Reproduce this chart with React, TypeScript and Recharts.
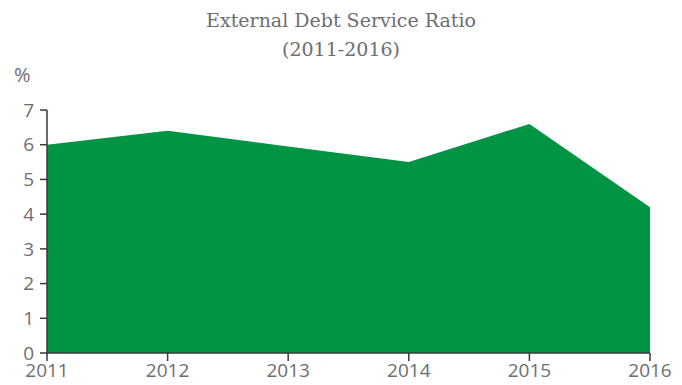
import React from 'react';
import { AreaChart, Area, XAxis, YAxis } from 'recharts';

const years = ['2011', '2012', '2013', '2014', '2015', '2016'];
const ratio = [6.0, 6.4, 5.95, 5.5, 6.6, 4.2];
const yTicks = [0, 1, 2, 3, 4, 5, 6, 7];

const data = years.map((year, i) => ({ year, ratio: ratio[i] }));

const GREEN = '#009444';
const AXIS = '#3a3a3a';
const LABEL = '#6d6e71';

export default function App() {
  const tickStyle = { fill: LABEL, fontSize: 19, fontFamily: '"Open Sans", sans-serif' };

  return (
    <div style={{ position: 'absolute', left: 0, top: 0, width: 682, height: 385, background: '#fff' }}>
      {/* title */}
      <div
        style={{
          position: 'absolute',
          left: 0,
          top: 6,
          width: 682,
          textAlign: 'center',
          fontFamily: '"DejaVu Serif", serif',
          fontSize: 19,
          lineHeight: '29px',
          color: LABEL,
        }}
      >
        External Debt Service Ratio
        <br />
        (2011-2016)
      </div>
      <div
        style={{
          position: 'absolute',
          left: 14,
          top: 61,
          fontFamily: '"Open Sans", sans-serif',
          fontSize: 20,
          color: LABEL,
        }}
      >
        %
      </div>

      <AreaChart width={682} height={385} data={data} margin={{ top: 110, right: 32, bottom: 0, left: 0 }}>
        <XAxis
          dataKey="year"
          height={32}
          axisLine={{ stroke: AXIS, strokeWidth: 1.5 }}
          tickLine={{ stroke: AXIS, strokeWidth: 1.5 }}
          tickSize={8}
          tickMargin={3}
          tick={tickStyle}
          interval={0}
        />
        <YAxis
          width={47}
          domain={[0, 7]}
          ticks={yTicks}
          axisLine={{ stroke: AXIS, strokeWidth: 1.5 }}
          tickLine={{ stroke: AXIS, strokeWidth: 1.5 }}
          tickSize={7}
          tickMargin={6}
          tick={tickStyle}
          interval={0}
        />
        <Area
          type="linear"
          dataKey="ratio"
          stroke="none"
          fill={GREEN}
          fillOpacity={1}
          isAnimationActive={false}
        />
      </AreaChart>
    </div>
  );
}
